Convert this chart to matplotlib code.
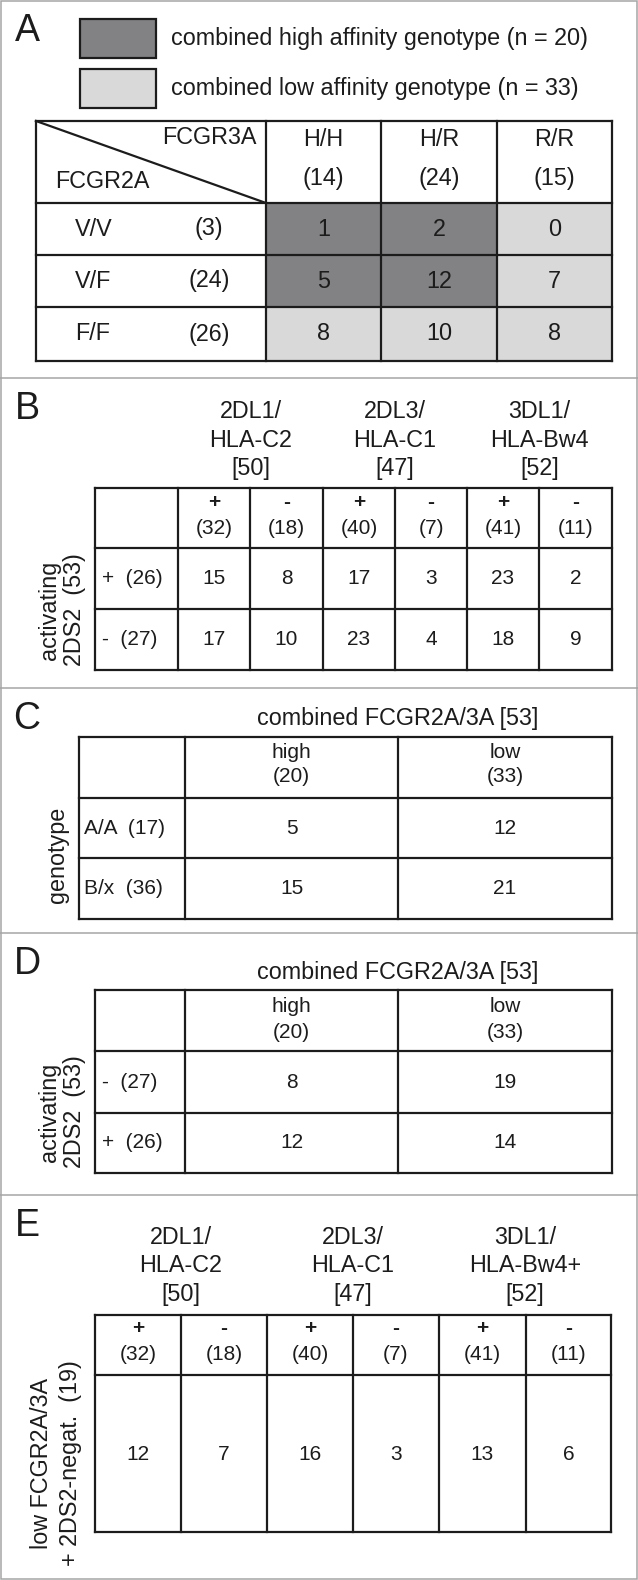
import matplotlib
matplotlib.use('Agg')
import matplotlib.pyplot as plt
from matplotlib.patches import Rectangle

plt.rcParams['font.family'] = ['Liberation Sans', 'DejaVu Sans']

# ---- data ----
n_high = 20
n_low = 33

# panel A: FCGR2A x FCGR3A
fc3a_genos = ['H/H', 'H/R', 'R/R']
fc3a_counts = [14, 24, 15]
fc2a_genos = ['V/V', 'V/F', 'F/F']
fc2a_counts = [3, 24, 26]
fc_table = [[1, 2, 0],
            [5, 12, 7],
            [8, 10, 8]]
fc_affinity = [['high', 'high', 'low'],
               ['high', 'high', 'low'],
               ['low', 'low', 'low']]

# panel B: KIR/HLA pairs x activating 2DS2
kir_pairs = [('2DL1/', 'HLA-C2'), ('2DL3/', 'HLA-C1'), ('3DL1/', 'HLA-Bw4')]
kir_totals = [50, 47, 52]
kir_signs = ['+', '-', '+', '-', '+', '-']
kir_sub_counts = [32, 18, 40, 7, 41, 11]
ds2_signs_b = ['+', '-']
ds2_counts_b = [26, 27]
ds2_total = 53
kir_ds2_table = [[15, 8, 17, 3, 23, 2],
                 [17, 10, 23, 4, 18, 9]]

# panel C: KIR genotype x combined FCGR
fc_total = 53
aff_cols = ['high', 'low']
aff_counts = [20, 33]
kir_genos = ['A/A', 'B/x']
kir_geno_counts = [17, 36]
geno_table = [[5, 12],
              [15, 21]]

# panel D: activating 2DS2 x combined FCGR
ds2_signs_d = ['-', '+']
ds2_counts_d = [27, 26]
ds2_aff_table = [[8, 19],
                 [12, 14]]

# panel E: low FCGR + 2DS2 negative group
kir_pairs_e = [('2DL1/', 'HLA-C2'), ('2DL3/', 'HLA-C1'), ('3DL1/', 'HLA-Bw4+')]
low_neg_n = 19
low_neg_values = [12, 7, 16, 3, 13, 6]

# ---- style / layout ----
W, H = 638, 1580
dark = '#828284'
light = '#d9d9d9'
ink = '#1c1c1c'
frame = '#a5a5a5'
lw = 1.6
fs_big = 16.8
fs_tab = 15
fs_letter = 27
fill_of = {'high': dark, 'low': light}

fig = plt.figure(figsize=(W / 100, H / 100), dpi=100)
ax = fig.add_axes([0, 0, 1, 1])
ax.set_xlim(0, W)
ax.set_ylim(H, 0)
ax.axis('off')


def txt(x, y, s, size=fs_tab, ha='center', **kw):
    ax.text(x, y, s, fontsize=size, ha=ha, va='center', color=ink, **kw)


def grid(xs, ys, fills=None):
    # cell fills first, then the lines on top
    if fills is not None:
        for i in range(len(ys) - 1):
            for j in range(len(xs) - 1):
                c = fills[i][j]
                if c:
                    ax.add_patch(Rectangle((xs[j], ys[i]), xs[j + 1] - xs[j],
                                           ys[i + 1] - ys[i], facecolor=c,
                                           edgecolor='none', zorder=1))
    for y in ys:
        ax.plot([xs[0], xs[-1]], [y, y], color=ink, lw=lw, zorder=3,
                solid_capstyle='projecting')
    for x in xs:
        ax.plot([x, x], [ys[0], ys[-1]], color=ink, lw=lw, zorder=3,
                solid_capstyle='projecting')


# outer frame and panel separators
ax.add_patch(Rectangle((0.8, 0.8), W - 1.6, H - 1.6, facecolor='none',
                       edgecolor=frame, lw=1.1))
for y in [378, 688, 933, 1195]:
    ax.plot([0, W], [y, y], color=frame, lw=1.1)

panel_tops = [0, 378, 688, 933, 1195]
for letter, top in zip('ABCDE', panel_tops):
    txt(27, top + 31, letter, size=fs_letter)

# ---- panel A ----
for k, (aff, n) in enumerate([('high', n_high), ('low', n_low)]):
    y0 = 19 + k * 50
    ax.add_patch(Rectangle((80, y0), 76, 39, facecolor=fill_of[aff],
                           edgecolor=ink, lw=lw))
    txt(171, y0 + 20, 'combined %s affinity genotype (n = %d)' % (aff, n),
        size=fs_big, ha='left')

xa = [36, 266, 381, 497, 612]
ya = [121, 203, 255, 307, 361]
fills_a = [[None] + [fill_of[a] for a in row] for row in fc_affinity]
grid(xa, ya, [[None] * 4] + fills_a)
ax.plot([xa[0], xa[1]], [ya[0], ya[1]], color=ink, lw=lw, zorder=3)
txt(257, 138, 'FCGR3A', size=fs_big, ha='right')
txt(55, 181, 'FCGR2A', size=fs_big, ha='left')
for j, (g, n) in enumerate(zip(fc3a_genos, fc3a_counts)):
    cx = (xa[j + 1] + xa[j + 2]) / 2
    txt(cx, 139, g, size=fs_big)
    txt(cx, 178, '(%d)' % n, size=fs_big)
for i, (g, n) in enumerate(zip(fc2a_genos, fc2a_counts)):
    cy = (ya[i + 1] + ya[i + 2]) / 2
    txt(75, cy, g, size=fs_big, ha='left')
    txt(209, cy, '(%d)' % n, size=fs_big)
    for j, v in enumerate(fc_table[i]):
        txt((xa[j + 1] + xa[j + 2]) / 2, cy, str(v), size=fs_big)


def kir_header(xs, y_top, pairs):
    # group titles above every pair of columns
    for g, (l1, l2) in enumerate(pairs):
        cx = (xs[1 + 2 * g] + xs[3 + 2 * g]) / 2
        txt(cx, y_top, l1, size=fs_big)
        txt(cx, y_top + 28.5, l2, size=fs_big)
        txt(cx, y_top + 57, '[%d]' % kir_totals[g], size=fs_big)


# ---- panel B ----
xb = [95, 178, 250, 323, 395, 467, 539, 612]
yb = [488, 548, 609, 670]
grid(xb, yb)
kir_header(xb, 412, kir_pairs)
for j, (s, n) in enumerate(zip(kir_signs, kir_sub_counts)):
    cx = (xb[j + 1] + xb[j + 2]) / 2
    txt(cx, 503, s, weight='bold')
    txt(cx, 528, '(%d)' % n)
for i, (s, n) in enumerate(zip(ds2_signs_b, ds2_counts_b)):
    cy = (yb[i + 1] + yb[i + 2]) / 2
    txt(102, cy, '%s  (%d)' % (s, n), ha='left')
    for j, v in enumerate(kir_ds2_table[i]):
        txt((xb[j + 1] + xb[j + 2]) / 2, cy, str(v))
txt(49, 610, 'activating', size=fs_big, rotation=90)
txt(75, 610, '2DS2  (%d)' % ds2_total, size=fs_big, rotation=90)

# ---- panel C ----
xc = [79, 185, 398, 612]
yc = [737, 798, 858, 919]
grid(xc, yc)
txt(398, 718, 'combined FCGR2A/3A [%d]' % fc_total, size=fs_big)
for j, (a, n) in enumerate(zip(aff_cols, aff_counts)):
    cx = (xc[j + 1] + xc[j + 2]) / 2
    txt(cx, 752, a)
    txt(cx, 777, '(%d)' % n)
for i, (g, n) in enumerate(zip(kir_genos, kir_geno_counts)):
    cy = (yc[i + 1] + yc[i + 2]) / 2
    txt(84, cy, '%s  (%d)' % (g, n), ha='left')
    for j, v in enumerate(geno_table[i]):
        txt((xc[j + 1] + xc[j + 2]) / 2, cy, str(v))
txt(57, 855, 'genotype', size=fs_big, rotation=90)

# ---- panel D ----
xd = [95, 185, 398, 612]
yd = [990, 1051, 1113, 1173]
grid(xd, yd)
txt(398, 972, 'combined FCGR2A/3A [%d]' % fc_total, size=fs_big)
for j, (a, n) in enumerate(zip(aff_cols, aff_counts)):
    cx = (xd[j + 1] + xd[j + 2]) / 2
    txt(cx, 1006, a)
    txt(cx, 1032, '(%d)' % n)
for i, (s, n) in enumerate(zip(ds2_signs_d, ds2_counts_d)):
    cy = (yd[i + 1] + yd[i + 2]) / 2
    txt(102, cy, '%s  (%d)' % (s, n), ha='left')
    for j, v in enumerate(ds2_aff_table[i]):
        txt((xd[j + 1] + xd[j + 2]) / 2, cy, str(v))
txt(49, 1112, 'activating', size=fs_big, rotation=90)
txt(75, 1112, '2DS2  (%d)' % ds2_total, size=fs_big, rotation=90)

# ---- panel E ----
xe = [95, 181, 267, 353, 439, 526, 611]
ye = [1315, 1375, 1532]
grid(xe, ye)
kir_header([None] + xe, 1237, kir_pairs_e)
for j, (s, n) in enumerate(zip(kir_signs, kir_sub_counts)):
    cx = (xe[j] + xe[j + 1]) / 2
    txt(cx, 1329, s, weight='bold')
    txt(cx, 1354, '(%d)' % n)
for j, v in enumerate(low_neg_values):
    txt((xe[j] + xe[j + 1]) / 2, 1454, str(v))
txt(42, 1463, 'low FCGR2A/3A', size=fs_big, rotation=90)
txt(71, 1463, '+ 2DS2-negat.  (%d)' % low_neg_n, size=fs_big, rotation=90)

fig.savefig('out.png', dpi=100)
